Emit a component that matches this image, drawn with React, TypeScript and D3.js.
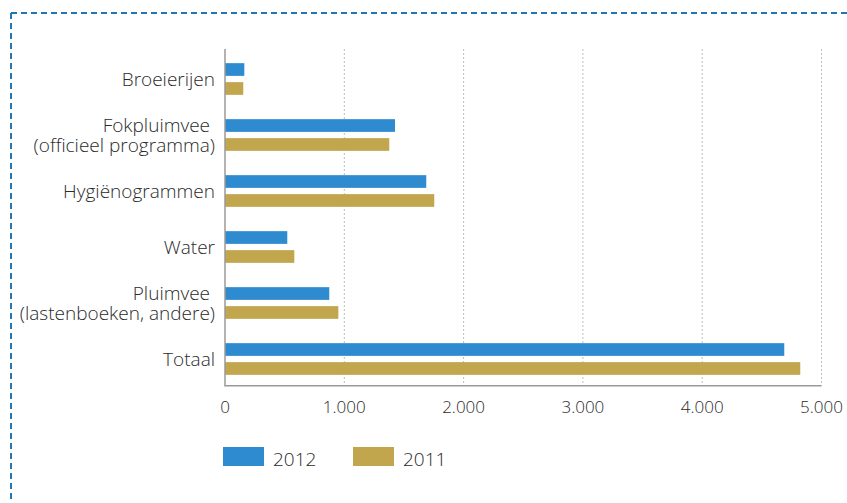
import React from "react";
import * as d3 from "d3";

const categories: string[][] = [
  ["Broeierijen"],
  ["Fokpluimvee\u00a0", "(officieel programma)"],
  ["Hygiënogrammen"],
  ["Water"],
  ["Pluimvee\u00a0", "(lastenboeken, andere)"],
  ["Totaal"],
];
const values2012 = [162, 1425, 1687, 522, 874, 4688];
const values2011 = [153, 1377, 1754, 581, 950, 4822];
const ticks = [0, 1000, 2000, 3000, 4000, 5000];
const tickLabels = ["0", "1.000", "2.000", "3.000", "4.000", "5.000"];
const seriesNames = ["2012", "2011"];
const colors = ["#2e8bcf", "#c2a64e"];

const W = 847;
const H = 503;
const FONT = "'Open Sans', 'Noto Sans', sans-serif";

export default function App() {
  const x = d3.scaleLinear().domain([0, 5000]).range([225, 821.5]);
  const y = d3
    .scaleBand<number>()
    .domain(d3.range(categories.length))
    .range([51, 387])
    .paddingInner(0.434)
    .paddingOuter(0.217);
  const inner = d3
    .scaleBand<number>()
    .domain([0, 1])
    .range([0, y.bandwidth()])
    .paddingInner(0.33);
  const series = [values2012, values2011];
  const axisTop = 49;
  const axisBottom = 385.7;

  return (
    <svg width={W} height={H} style={{ position: "absolute", left: 0, top: 0, display: "block" }}>
      <rect width={W} height={H} fill="#fff" />
      {/* dashed frame */}
      <line x1={11} y1={13} x2={W} y2={13} stroke="#2176b5" strokeWidth={2} strokeDasharray="6 4" />
      <line x1={11} y1={13} x2={11} y2={H} stroke="#2176b5" strokeWidth={2} strokeDasharray="6 4" />

      {/* grid */}
      {ticks.slice(1).map((t) => (
        <line
          key={t}
          x1={x(t)}
          x2={x(t)}
          y1={axisTop}
          y2={axisBottom}
          stroke="#bdbdbd"
          strokeWidth={1}
          strokeDasharray="2 2"
        />
      ))}

      {/* bars */}
      {series.map((vals, si) =>
        vals.map((v, i) => (
          <rect
            key={`${si}-${i}`}
            x={x(0)}
            y={(y(i) as number) + (inner(si) as number)}
            width={x(v) - x(0)}
            height={inner.bandwidth()}
            fill={colors[si]}
          />
        ))
      )}

      {/* axes */}
      <line x1={x(0)} x2={x(0)} y1={axisTop} y2={axisBottom} stroke="#9a9a9a" strokeWidth={1.5} />
      <line x1={x(0) - 0.75} x2={x(5000)} y1={axisBottom} y2={axisBottom} stroke="#9a9a9a" strokeWidth={1.5} />

      {/* tick labels */}
      {ticks.map((t, i) => (
        <text
          key={t}
          x={x(t)}
          y={412.5}
          textAnchor="middle"
          fontFamily={FONT}
          fontSize={17}
          fontWeight={300}
          fill="#2a2a2a"
        >
          {tickLabels[i]}
        </text>
      ))}

      {/* category labels */}
      {categories.map((lines, i) => {
        const c = (y(i) as number) + y.bandwidth() / 2;
        const lh = 20;
        const start = c + 6.5 - ((lines.length - 1) * lh) / 2;
        return (
          <text
            key={i}
            textAnchor="end"
            fontFamily={FONT}
            fontSize={19}
            fontWeight={300}
            fill="#2a2a2a"
            style={{ whiteSpace: "pre" }}
          >
            {lines.map((l, k) => (
              <tspan key={k} x={215} y={start + k * lh}>
                {l}
              </tspan>
            ))}
          </text>
        );
      })}

      {/* legend */}
      {seriesNames.map((s, i) => {
        const lx = i === 0 ? 223 : 353;
        return (
          <g key={s}>
            <rect x={lx} y={447} width={41} height={19} fill={colors[i]} />
            <text x={lx + 50} y={465.5} fontFamily={FONT} fontSize={19} fontWeight={300} fill="#2a2a2a">
              {s}
            </text>
          </g>
        );
      })}
    </svg>
  );
}
